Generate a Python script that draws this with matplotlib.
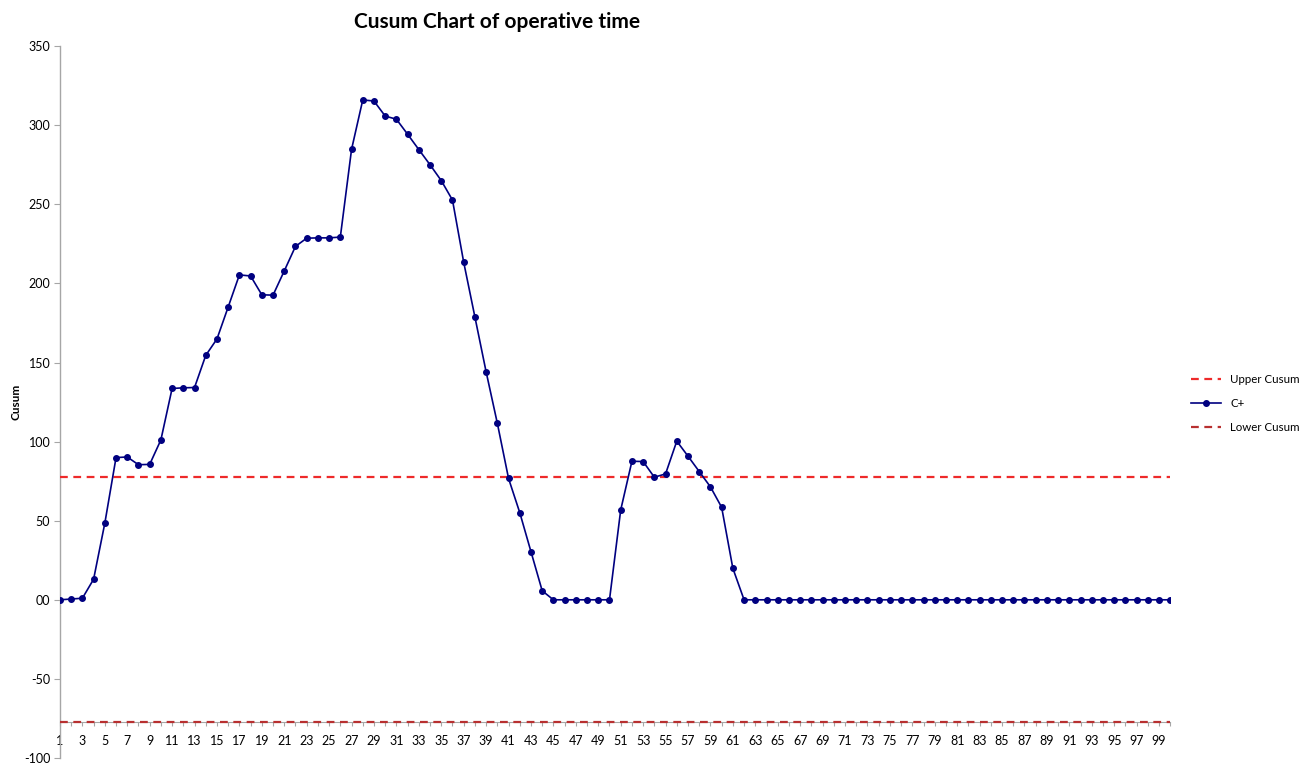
import numpy as np
import matplotlib.pyplot as plt
from matplotlib.ticker import FixedLocator, FixedFormatter

plt.rcParams['font.family'] = ['Lato', 'DejaVu Sans']

# sample numbers 1..100
samples = list(range(1, 101))

# C+ cusum values
c_plus = [
    0, 0.5, 1, 13, 48.4, 89.9, 90.3, 85.4, 85.6, 101.1,
    133.6, 134, 134.2, 154.5, 164.9, 185.1, 205.4, 204.7, 192.8, 192.6,
    207.9, 223.4, 228.6, 228.8, 228.8, 229.3, 284.7, 316, 315.3, 305.8,
    303.8, 294.3, 284.6, 275, 265, 252.7, 213.4, 178.8, 144.1, 111.6,
    76.7, 55.1, 30.4, 5.7, 0, 0, 0, 0, 0, 0,
    56.8, 87.6, 87.4, 77.5, 79.6, 100.3, 90.8, 81.1, 71.4, 58.5,
    19.9, 0, 0, 0, 0, 0, 0, 0, 0, 0,
    0, 0, 0, 0, 0, 0, 0, 0, 0, 0,
    0, 0, 0, 0, 0, 0, 0, 0, 0, 0,
    0, 0, 0, 0, 0, 0, 0, 0, 0, 0,
]

upper_limit = 77.5
lower_limit = -77.5

y_ticks = [-100, -50, 0, 50, 100, 150, 200, 250, 300, 350]
y_tick_labels = ['-100', '-50', '00', '50', '100', '150', '200', '250', '300', '350']


def main():
    fig = plt.figure(figsize=(13.09, 7.69), dpi=100)
    ax = fig.add_axes([0.0458, 0.0143, 0.8482, 0.9257])

    n = len(samples)
    ax.plot(samples, [upper_limit] * n, ls=(0, (3.5, 2.5)), color='#ee2a2a',
            lw=1.6, label='Upper Cusum', zorder=3)
    ax.plot(samples, c_plus, color='#000080', lw=1.2, marker='o', ms=4,
            label='C+', zorder=4)
    ax.plot(samples, [lower_limit] * n, ls=(0, (3.5, 2.5)), color='#b83030',
            lw=1.6, label='Lower Cusum', zorder=3)

    ax.set_xlim(1, 100)
    ax.set_ylim(-100, 350)

    for s in ['top', 'right']:
        ax.spines[s].set_visible(False)
    ax.spines['left'].set_color('#a6a6a6')
    ax.spines['left'].set_linewidth(1.0)
    ax.spines['bottom'].set_position(('data', lower_limit))
    ax.spines['bottom'].set_color('#a6a6a6')
    ax.spines['bottom'].set_linewidth(0.8)

    ax.yaxis.set_major_locator(FixedLocator(y_ticks))
    ax.yaxis.set_major_formatter(FixedFormatter(y_tick_labels))
    ax.tick_params(axis='y', direction='out', length=4, width=0.8,
                   color='#a6a6a6', labelsize=9, pad=3)

    ax.set_xticks(samples[::2])
    ax.set_xticklabels([str(s) for s in samples[::2]])
    ax.set_xticks(samples, minor=True)
    ax.tick_params(axis='x', which='both', direction='out', length=3,
                   width=0.8, color='#a6a6a6', labelsize=9, pad=6)

    ax.set_ylabel('Cusum', fontsize=8.5, fontweight='bold', labelpad=2)

    fig.text(0.38, 0.972, 'Cusum Chart of operative time', ha='center',
             va='center', fontsize=15, fontweight='bold')

    fig.legend(loc='center left', bbox_to_anchor=(0.902, 0.475), frameon=False,
               fontsize=8.3, handlelength=2.6, labelspacing=1.15)

    fig.savefig('out.png', dpi=100)
    plt.close(fig)


if __name__ == '__main__':
    main()
